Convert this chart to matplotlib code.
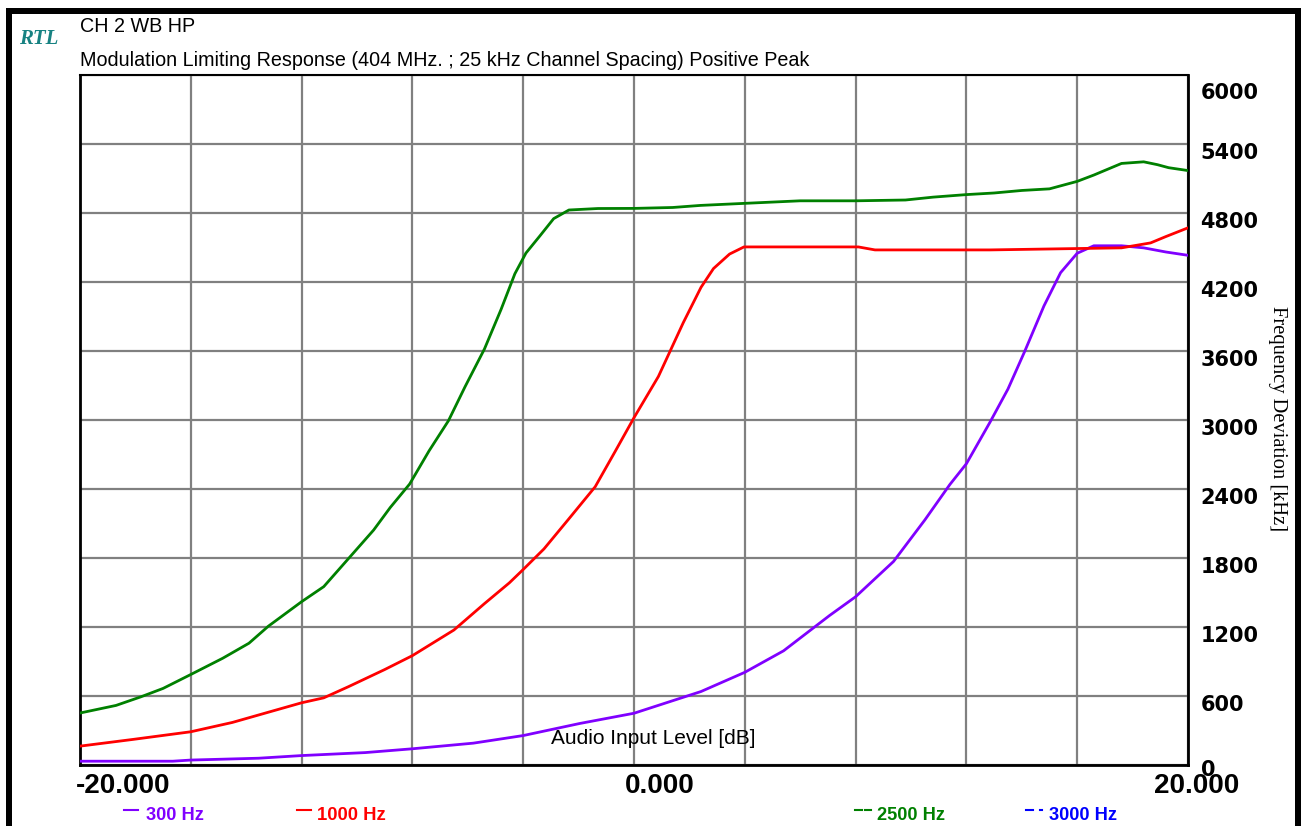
import numpy as np
import matplotlib
matplotlib.use("Agg")
import matplotlib.pyplot as plt
from matplotlib.lines import Line2D
from matplotlib.patches import Rectangle
import matplotlib.transforms as mtransforms

# ---------------- data ----------------
x_2500 = [-20, -18.7, -17.8, -17.0, -16, -14.85, -13.9, -13.2, -12, -11.2, -10.3, -9.4, -8.8,
          -8.1, -7.4, -6.7, -6.1, -5.4, -4.8, -4.3, -3.9, -3.4, -2.9, -2.35, -1.3, 0, 1.4, 2.4,
          4, 6, 8, 9.8, 10.8, 12, 13, 14, 15, 16, 16.6, 17.6, 18.4, 18.9, 19.3, 20]
y_2500 = [452, 518, 593, 666, 787, 928, 1059, 1207, 1420, 1551, 1797, 2043, 2239,
          2443, 2731, 2993, 3289, 3617, 3961, 4272, 4452, 4600, 4751, 4826, 4839, 4840, 4848, 4866,
          4884, 4906, 4906, 4913, 4938, 4960, 4974, 4996, 5010, 5075, 5130, 5231, 5245, 5220, 5194, 5169]

x_1000 = [-20, -18.07, -16, -14.5, -13.2, -12, -11.2, -10.3, -9.0, -8, -6.5, -5.4, -4.5, -4,
          -3.25, -2.35, -1.4, -0.67, 0, 0.88, 1.78, 2.42, 2.87, 3.45, 3.97, 8.1, 8.7, 12.85,
          17.6, 18.65, 19.2, 20]
y_1000 = [164, 223, 289, 370, 459, 541, 584, 682, 830, 951, 1174, 1403, 1584, 1700,
          1879, 2141, 2420, 2731, 3020, 3378, 3847, 4154, 4317, 4443, 4505, 4505, 4479, 4479,
          4497, 4540, 4595, 4671]

x_300 = [-20, -16.65, -16, -13.55, -12, -9.7, -8, -5.8, -4, -1.96, 0, 2.42, 4, 5.4, 7.06, 8,
         9.37, 10.5, 11.4, 12, 12.85, 13.5, 14.1, 14.8, 15.4, 16, 16.6, 17.6, 18.4, 19.2, 20]
y_300 = [33, 33, 43, 59, 82, 108, 141, 190, 256, 361, 450, 639, 806, 993, 1300, 1463,
         1770, 2131, 2438, 2620, 2980, 3269, 3594, 3992, 4281, 4450, 4515, 4515, 4497, 4461, 4432]

series_labels = ["300 Hz", "1000 Hz", "2500 Hz", "3000 Hz"]
series_colors = ["#8000ff", "#ff0000", "#008000", "#0000ff"]

x_ticks_major = [-20, 0, 20]
x_tick_labels = ["-20.000", "0.000", "20.000"]
y_ticks = list(range(0, 6001, 600))

title_top = "CH 2 WB HP"
title_main = "Modulation Limiting Response (404 MHz. ; 25 kHz Channel Spacing) Positive Peak"
x_label = "Audio Input Level [dB]"
y_label = "Frequency Deviation [kHz]"
logo = "RTL"

# ---------------- figure ----------------
W, H = 1301, 826
fig = plt.figure(figsize=(W / 100, H / 100), dpi=100)
fig.patch.set_facecolor("white")

def fx(px):
    return px / W

def fy(py):
    return 1 - py / H

L, T, R, B = 80, 75, 1188, 765
ax = fig.add_axes([fx(L), fy(B), (R - L) / W, (B - T) / H])
ax.set_xlim(-20, 20)
ax.set_ylim(0, 6000)

ax.plot(x_300, y_300, color=series_colors[0], lw=2.0, zorder=3)
ax.plot(x_1000, y_1000, color=series_colors[1], lw=2.0, zorder=3)
ax.plot(x_2500, y_2500, color=series_colors[2], lw=2.0, zorder=3)

# grid
ax.set_xticks(np.arange(-20, 21, 4), minor=True)
ax.set_xticks(x_ticks_major)
ax.set_xticklabels(x_tick_labels)
ax.set_yticks(y_ticks)
ax.yaxis.tick_right()
ax.grid(True, which="both", color="#808080", lw=1.6, zorder=1)
ax.set_axisbelow(True)
ax.tick_params(which="both", length=0)
ax.tick_params(axis="x", pad=6)
ax.tick_params(axis="y", pad=9)
for lab in ax.get_xticklabels():
    lab.set_fontfamily("Liberation Sans")
    lab.set_fontweight("bold")
    lab.set_fontsize(20)
labs = ax.get_xticklabels()
labs[0].set_ha("left")
labs[0].set_transform(labs[0].get_transform() + mtransforms.ScaledTranslation(-4 / 100, 0, fig.dpi_scale_trans))
labs[1].set_ha("left")
labs[1].set_transform(labs[1].get_transform() + mtransforms.ScaledTranslation(-9 / 100, 0, fig.dpi_scale_trans))
labs[2].set_ha("center")
labs[2].set_transform(labs[2].get_transform() + mtransforms.ScaledTranslation(9 / 100, 0, fig.dpi_scale_trans))

for i, lab in enumerate(ax.get_yticklabels()):
    lab.set_fontfamily("DejaVu Sans")
    lab.set_fontweight("bold")
    lab.set_fontsize(15)
    dy = -7
    if y_ticks[i] == 6000:
        dy = -16
    if y_ticks[i] == 0:
        dy = -3
    lab.set_transform(lab.get_transform() + mtransforms.ScaledTranslation(0, dy / 100, fig.dpi_scale_trans))

for s in ["left", "bottom", "right"]:
    ax.spines[s].set_linewidth(2)
    ax.spines[s].set_color("black")
ax.spines["top"].set_linewidth(1.5)
ax.spines["top"].set_color("black")

ax.text((653 - L) / (R - L), (B - 739) / (B - T), x_label, transform=ax.transAxes,
        ha="center", va="center", fontsize=15, family="Liberation Sans", color="black", zorder=4)

fig.text(fx(1278), fy(419), y_label, rotation=-90, ha="center", va="center",
         fontsize=14.8, family="Liberation Serif", color="black")

# titles
t_top = fig.text(fx(80), fy(26), title_top, ha="left", va="center", fontsize=13,
                 family=["Liberation Sans Narrow", "Liberation Sans"])
t_main = fig.text(fx(80), fy(61), title_main, ha="left", va="center", fontsize=13,
                  family=["Liberation Sans Narrow", "Liberation Sans"])
fig.text(fx(39), fy(39), logo, ha="center", va="center", fontsize=15, family="Liberation Serif",
         style="italic", weight="bold", color="#178282")

# legend row
leg_text_x = [146, 317, 877, 1049]
leg_texts = []
for lx, lab, c in zip(leg_text_x, series_labels, series_colors):
    leg_texts.append(fig.text(fx(lx), fy(815), lab, ha="left", va="center", fontsize=15,
                              family=["Liberation Sans Narrow", "Liberation Sans"],
                              weight="bold", color=c))
marker_y = fy(810)
segs = [
    (0, [(124, 138)]),
    (1, [(297, 311)]),
    (2, [(855, 862), (865, 871)]),
    (3, [(1026, 1033), (1040, 1042)]),
]
for idx, pieces in segs:
    for a, b in pieces:
        fig.add_artist(Line2D([fx(a), fx(b)], [marker_y, marker_y], transform=fig.transFigure,
                              color=series_colors[idx], lw=1.5))

# fit title widths
fig.canvas.draw()
r = fig.canvas.get_renderer()
w = t_main.get_window_extent(r).width
main_fs = t_main.get_fontsize() * 726 / w
t_main.set_fontsize(main_fs)
t_top.set_fontsize(main_fs)
for t, target in zip(leg_texts, [58, 69, 68, 68]):
    w = t.get_window_extent(r).width
    t.set_fontsize(t.get_fontsize() * target / w)

# outer black frame
for (x0, y0, x1, y1) in [(6, 8, 12, 826), (6, 8, 1301, 14), (1295, 8, 1301, 826)]:
    fig.add_artist(Rectangle((fx(x0), fy(y1)), (x1 - x0) / W, (y1 - y0) / H,
                             transform=fig.transFigure, color="black", lw=0))

fig.savefig("out.png", dpi=100, facecolor="white")
